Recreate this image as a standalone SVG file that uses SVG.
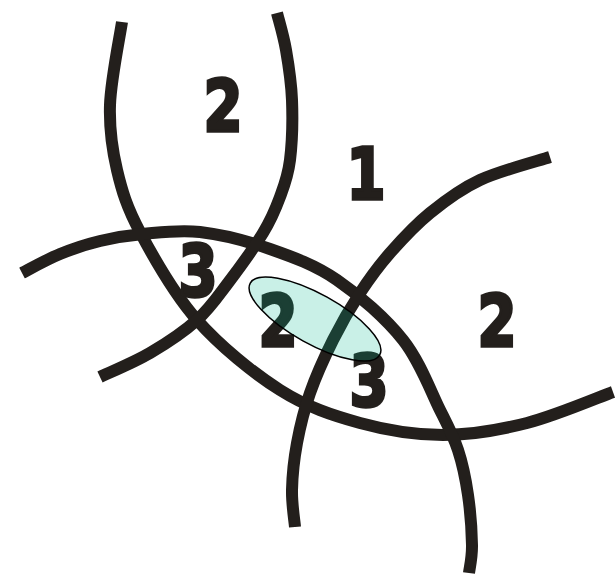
<svg xmlns="http://www.w3.org/2000/svg" width="616" height="575" viewBox="0 0 616 575">
<style>
.arc{fill:none;stroke:#231f1c;stroke-width:12;stroke-linecap:butt;stroke-linejoin:round}
.num{font-family:"DejaVu Sans","Liberation Sans",sans-serif;font-weight:bold;font-size:72px;fill:#231f1c;stroke:#231f1c;stroke-width:3.5;stroke-linejoin:miter;text-anchor:middle}
</style>
<rect width="616" height="575" fill="#ffffff"/>
<g id="arcs">
<path id="arcA" class="arc" d="M122,22 C120,35.8 110.8,80.3 110,105 C109.2,129.7 112,148.8 117,170 C122,191.2 126.7,207 140,232 C153.3,257 173.7,293.7 197,320 C220.3,346.3 252.8,372.8 280,390 C307.2,407.2 332.8,415.5 360,423 C387.2,430.5 415.2,435 443,435 C470.8,435 498.7,430.2 527,423 C555.3,415.8 598.7,397.2 613,392"/>
<path id="arcB" class="arc" d="M22,273 C28.3,269.8 47,259.3 60,254 C73,248.7 86.2,244.3 100,241 C113.8,237.7 126.3,235.5 143,234 C159.7,232.5 178.8,229.5 200,232 C221.2,234.5 247.2,241 270,249 C292.8,257 314.8,264.8 337,280 C359.2,295.2 385.8,318.3 403,340 C420.2,361.7 430.8,391.7 440,410 C449.2,428.3 453.3,435.8 458,450 C462.7,464.2 465.7,479.2 468,495 C470.3,510.8 471.8,532 472,545 C472.2,558 469.5,568.3 469,573"/>
<path id="arcC" class="arc" d="M277,13 C278.5,19.2 283.5,35.5 286,50 C288.5,64.5 291.3,81.7 292,100 C292.7,118.3 292,143.8 290,160 C288,176.2 284.5,184.8 280,197 C275.5,209.2 271.7,218.7 263,233 C254.3,247.3 239,268.5 228,283 C217,297.5 210,308.3 197,320 C184,331.7 166.2,343.5 150,353 C133.8,362.5 108.3,373 100,377"/>
<path id="arcD" class="arc" d="M550,157 C538.3,160.8 500,170.7 480,180 C460,189.3 445,200.8 430,213 C415,225.2 401.7,239.7 390,253 C378.3,266.3 369.5,278.5 360,293 C350.5,307.5 341.3,323.3 333,340 C324.7,356.7 316,375.8 310,393 C304,410.2 300,426.8 297,443 C294,459.2 292.3,476 292,490 C291.7,504 294.5,520.8 295,527"/>
</g>
<g id="labels">
<text class="num" transform="translate(223,131) scale(0.78,1)">2</text>
<text class="num" transform="translate(366,199) scale(0.78,1)">1</text>
<text class="num" transform="translate(198,296) scale(0.78,1)">3</text>
<text class="num" transform="translate(278,346) scale(0.78,1)">2</text>
<text class="num" transform="translate(369,406) scale(0.78,1)">3</text>
<text class="num" transform="translate(497,346) scale(0.78,1)">2</text>
</g>
<g id="highlight">
<ellipse cx="315" cy="319" rx="74" ry="25" transform="rotate(29 315 319)" fill="#00b98c" fill-opacity="0.21" stroke="#000000" stroke-width="1.5"/>
</g>
</svg>
